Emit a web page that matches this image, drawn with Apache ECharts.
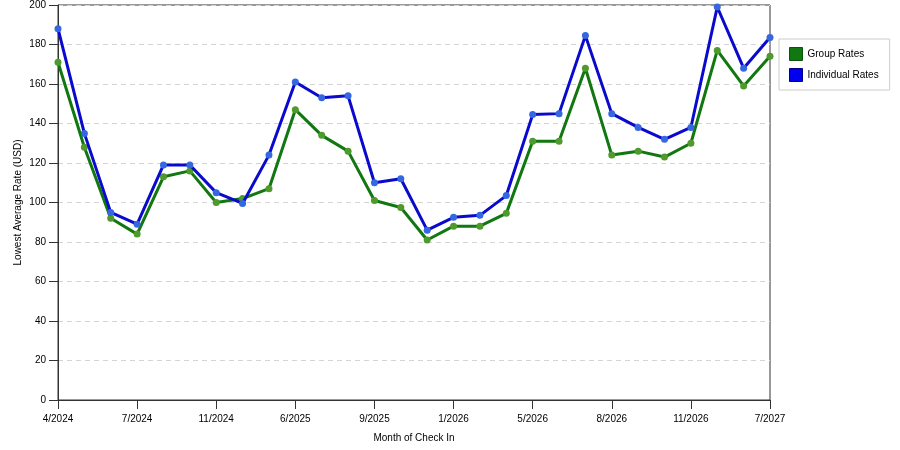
<!DOCTYPE html>
<html lang="en">
<head>
    <meta charset="UTF-8">
    <title>Lowest Average Rate</title>
    <script type="text/javascript" src="https://cdn.jsdelivr.net/npm/echarts@6/dist/echarts.min.js"></script>
    <style>
        html, body { margin: 0; padding: 0; background: #fff; }
    </style>
</head>
<body>
<div id="main" style="width: 900px;height:450px;"></div>
<script type="text/javascript">
    // check-in months (only every third one is labelled on the axis)
    var months = ['4/2024', '5/2024', '6/2024', '7/2024', '8/2024', '10/2024', '11/2024',
        '12/2024', '3/2025', '6/2025', '7/2025', '8/2025', '9/2025', '10/2025', '12/2025',
        '1/2026', '2/2026', '3/2026', '5/2026', '6/2026', '7/2026', '8/2026', '9/2026',
        '10/2026', '11/2026', '12/2026', '5/2027', '7/2027'];

    var groupRates = [171, 128, 92, 84, 113, 116, 100, 102, 107, 147, 134, 126, 101, 97.5,
        81, 88, 88, 94.5, 131, 131, 168, 124, 126, 123, 130, 177, 159, 174];

    var individualRates = [188, 135, 95, 89, 119, 119, 105, 99.5, 124, 161, 153, 154, 110, 112,
        86, 92.5, 93.5, 103.5, 144.5, 145, 184.5, 145, 138, 132, 138, 199, 168, 183.5];

    var yTicks = [0, 20, 40, 60, 80, 100, 120, 140, 160, 180, 200];

    var font = 'Liberation Sans, Arial, sans-serif';

    var option = {
        animation: false,
        backgroundColor: '#ffffff',
        textStyle: { fontFamily: font },
        grid: {
            left: 58,
            right: 130,
            top: 5,
            bottom: 50,
            show: true,
            borderColor: '#333333',
            borderWidth: 1
        },
        legend: {
            orient: 'vertical',
            left: 779,
            top: 39,
            width: 110,
            padding: [8, 11, 8, 10],
            itemWidth: 13,
            itemHeight: 13,
            itemGap: 7,
            borderColor: '#cccccc',
            borderWidth: 1,
            textStyle: { fontSize: 10, color: '#000000', fontFamily: font },
            data: [
                { name: 'Group Rates', icon: 'rect', itemStyle: { color: '#117711', borderColor: '#0b550b', borderWidth: 1 } },
                { name: 'Individual Rates', icon: 'rect', itemStyle: { color: '#0000ee', borderColor: '#00008a', borderWidth: 1 } }
            ]
        },
        xAxis: {
            type: 'category',
            boundaryGap: false,
            data: months,
            name: 'Month of Check In',
            nameLocation: 'middle',
            nameGap: 33,
            nameTextStyle: { fontSize: 10, color: '#000000' },
            axisLine: { lineStyle: { color: '#333333', width: 1 } },
            axisTick: { interval: 2, length: 9, lineStyle: { color: '#333333' } },
            axisLabel: { interval: 2, fontSize: 10, color: '#000000', margin: 14 },
            splitLine: { show: false }
        },
        yAxis: {
            type: 'value',
            min: yTicks[0],
            max: yTicks[yTicks.length - 1],
            interval: 20,
            name: 'Lowest Average Rate (USD)',
            nameLocation: 'middle',
            nameGap: 35,
            nameMoveOverlap: false,
            nameTextStyle: { fontSize: 10, color: '#000000' },
            axisLine: { show: true, lineStyle: { color: '#333333', width: 1 } },
            axisTick: { show: true, length: 9, lineStyle: { color: '#333333' } },
            axisLabel: { fontSize: 10, color: '#000000', margin: 12 },
            splitLine: { show: true, lineStyle: { color: '#d4d4d4', type: [5, 4], width: 1 } }
        },
        series: [
            {
                name: 'Group Rates',
                type: 'line',
                data: groupRates,
                symbol: 'circle',
                symbolSize: 7,
                lineStyle: { color: '#117711', width: 3 },
                itemStyle: { color: '#4e9a2c', borderWidth: 0 },
                z: 2
            },
            {
                name: 'Individual Rates',
                type: 'line',
                data: individualRates,
                symbol: 'circle',
                symbolSize: 7,
                lineStyle: { color: '#0a0acc', width: 3 },
                itemStyle: { color: '#3568e0', borderWidth: 0 },
                z: 3
            }
        ]
    };

    var myChart = echarts.init(document.getElementById('main'));
    myChart.setOption(option);
</script>
</body>
</html>
